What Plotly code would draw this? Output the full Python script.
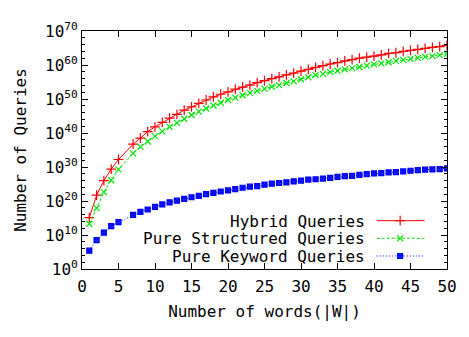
import plotly.graph_objects as go

# ---- data (x = number of words, values given as powers of ten) ----
words = [1, 2, 3, 4, 5, 7, 8, 9, 10, 11, 12, 13, 14, 15, 16, 17, 18, 19, 20,
         21, 22, 23, 24, 25, 26, 27, 28, 29, 30, 31, 32, 33, 34, 35, 36, 37, 38,
         39, 40, 41, 42, 43, 44, 45, 46, 47, 48, 49, 50]

hybrid_exp = [15.1, 21.7, 26.0, 29.4, 32.2, 36.7, 38.5, 40.4, 41.8, 43.1, 44.4,
              45.5, 46.7, 47.7, 48.7, 49.7, 50.6, 51.4, 52.1, 52.9, 53.5, 54.1,
              54.8, 55.4, 56.0, 56.5, 57.1, 57.6, 58.2, 58.7, 59.3, 59.8, 60.3,
              60.7, 61.2, 61.6, 62.0, 62.3, 62.6, 63.0, 63.4, 63.6, 64.0, 64.3,
              64.6, 64.9, 65.2, 65.4, 65.8]

structured_exp = [13.3, 17.9, 22.6, 26.1, 29.3, 34.0, 35.9, 37.5, 39.1, 40.5,
                  41.8, 43.0, 44.2, 45.3, 46.3, 47.2, 48.1, 48.9, 49.7, 50.4,
                  51.1, 51.8, 52.4, 53.0, 53.6, 54.1, 54.7, 55.2, 55.8, 56.4,
                  57.0, 57.4, 57.9, 58.3, 58.7, 59.1, 59.4, 59.8, 60.2, 60.5,
                  60.8, 61.2, 61.5, 61.8, 62.1, 62.4, 62.6, 62.9, 63.3]

keyword_exp = [5.4, 8.5, 10.7, 12.6, 13.8, 15.9, 16.8, 17.5, 18.3, 19.0, 19.6,
               20.1, 20.6, 21.1, 21.5, 22.0, 22.4, 22.8, 23.1, 23.5, 23.9, 24.2,
               24.4, 24.8, 25.1, 25.3, 25.5, 25.8, 26.0, 26.3, 26.4, 26.6, 26.8,
               27.1, 27.3, 27.4, 27.7, 27.9, 28.1, 28.2, 28.4, 28.5, 28.7, 28.9,
               29.1, 29.2, 29.3, 29.4, 29.6]

series_names = ["Hybrid Queries", "Pure Structured Queries", "Pure Keyword Queries"]
x_ticks = [0, 5, 10, 15, 20, 25, 30, 35, 40, 45, 50]
y_tick_exps = [0, 10, 20, 30, 40, 50, 60, 70]

FONT = "DejaVu Sans Mono"
styles = [
    dict(color="#ff0000", fill="#ff0000", dash="solid", symbol="cross-thin", size=7),
    dict(color="#00e600", fill="#00e600", dash="3px,2px", symbol="x-thin", size=6),
    dict(color="#0000ff", fill="#3030ff", dash="1px,2px", symbol="square-x", size=5),
]

fig = go.Figure()
for name, exps, st in zip(series_names, [hybrid_exp, structured_exp, keyword_exp], styles):
    fig.add_trace(go.Scatter(
        x=words, y=[10.0 ** e for e in exps], mode="lines+markers", name=name,
        line=dict(color=st["color"], width=1, dash=st["dash"]),
        marker=dict(symbol=st["symbol"], size=st["size"], color=st["fill"],
                    line=dict(color=st["color"], width=1.2)),
        showlegend=False, xaxis="x", yaxis="y"))

# custom gnuplot-style key (text right-aligned, sample to the right)
key_rows = [52, 33, 14]  # px above bottom of plot area
for name, row, st in zip(series_names, key_rows, styles):
    fig.add_trace(go.Scatter(
        x=[302, 326, 351], y=[row, row, row], mode="lines",
        line=dict(color=st["color"], width=1, dash=st["dash"]),
        showlegend=False, hoverinfo="skip", xaxis="x2", yaxis="y2"))
    fig.add_trace(go.Scatter(
        x=[326], y=[row], mode="markers",
        marker=dict(symbol=st["symbol"], size=st["size"], color=st["fill"],
                    line=dict(color=st["color"], width=1.2)),
        showlegend=False, hoverinfo="skip", xaxis="x2", yaxis="y2"))
    fig.add_annotation(x=290, y=row, xref="x2", yref="y2", text=name,
                       showarrow=False, xanchor="right", yanchor="middle",
                       borderpad=0, borderwidth=0, height=18,
                       font=dict(family=FONT, size=16, color="black"))

fig.update_layout(
    width=461, height=321,
    margin=dict(l=72, r=15, t=13, b=52),
    paper_bgcolor="white", plot_bgcolor="white",
    font=dict(family=FONT, size=16, color="black"),
    xaxis=dict(range=[0, 50], tickvals=x_ticks, ticks="inside", ticklen=6,
               tickcolor="black", mirror="allticks", showline=True,
               linecolor="black", linewidth=1, showgrid=False, zeroline=False,
               ticklabeloverflow="allow", ticklabelstandoff=3,
               title=dict(text="Number of words(|W|)", standoff=10,
                          font=dict(family=FONT, size=16))),
    yaxis=dict(type="log", range=[0, 70], tickvals=[10.0 ** e for e in y_tick_exps],
               ticktext=["10<sup>%d</sup>" % e for e in y_tick_exps],
               ticks="inside", ticklen=6, tickcolor="black", mirror="allticks",
               showline=True, linecolor="black", linewidth=1, showgrid=False,
               zeroline=False, ticklabeloverflow="allow",
               minor=dict(dtick=2, ticks="inside", ticklen=3, tickcolor="black",
                          showgrid=False),
               title=dict(text="Number of Queries", standoff=14,
                          font=dict(family=FONT, size=16))),
    xaxis2=dict(overlaying="x", range=[0, 374], visible=False),
    yaxis2=dict(overlaying="y", range=[0, 256], visible=False),
)

fig.write_html("out.html")
